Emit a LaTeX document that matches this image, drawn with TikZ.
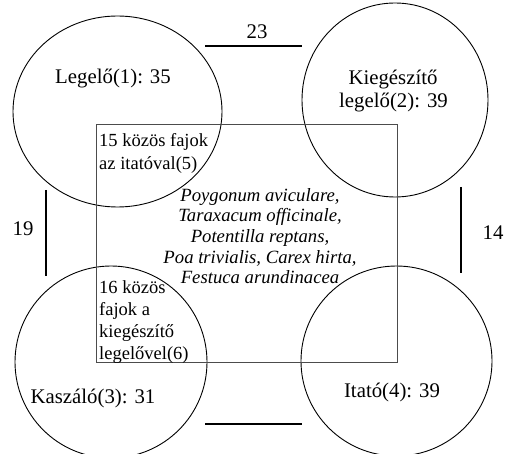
\documentclass[tikz,border=0pt]{standalone}
\usepackage{fontspec}
\setmainfont{Liberation Serif}
\usetikzlibrary{shapes.geometric}
\begin{document}
\begin{tikzpicture}[x=1pt,y=-1pt,
  area/.style={draw, ellipse, line width=0.9pt, inner sep=0pt},
  big/.style={font=\fontsize{20.8}{25}\selectfont, inner sep=0pt, anchor=base},
  small/.style={font=\fontsize{18.5}{22}\selectfont, inner sep=0pt, anchor=base west},
  spec/.style={font=\fontsize{18.7}{21}\selectfont\itshape, inner sep=0pt, anchor=base},
  link/.style={line width=1.6pt},
  common/.style={draw=black!70, line width=0.9pt, rectangle, inner sep=0pt}]
\useasboundingbox (0,0) rectangle (508,454);
% areas
\node[area, minimum width=209pt, minimum height=191pt] (c1) at (117.5,111.5) {};
\node[area, minimum width=186pt, minimum height=194pt] (c2) at (395,100) {};
\node[area, minimum width=192pt, minimum height=192pt] (c3) at (111,362) {};
\node[area, minimum width=191pt, minimum height=190pt] (c4) at (396.5,361) {};
% common species box
\node[common, minimum width=301pt, minimum height=238pt] (box) at (246.5,243) {};
% area labels
\node[big] (l1) at (113,84) {Legelő(1): 35};
\node[big] (l2a) at (393,84.5) {Kiegészítő};
\node[big] (l2b) at (393.5,108) {legelő(2): 39};
\node[big] (l3) at (93,403) {Kaszáló(3): 31};
\node[big] (l4) at (392,397) {Itató(4): 39};
% shared counts
\node[small] (s5a) at (99,147) {15 közös fajok};
\node[small] (s5b) at (99,170) {az itatóval(5)};
\node[small] (s6a) at (99,293.5) {16 közös};
\node[small] (s6b) at (99,315.5) {fajok a};
\node[small] (s6c) at (99,337.5) {kiegészítő};
\node[small] (s6d) at (99,359.5) {legelővel(6)};
% species list
\node[spec] (p1) at (260,201.5) {Poygonum aviculare,};
\node[spec] (p2) at (260,222) {Taraxacum officinale,};
\node[spec] (p3) at (260,242.5) {Potentilla reptans,};
\node[spec] (p4) at (260,263) {Poa trivialis, Carex hirta,};
\node[spec] (p5) at (260,283.5) {Festuca arundinacea};
% links between areas
\coordinate (t1) at (205,46);
\coordinate (t2) at (302,46);
\coordinate (v1) at (46,190);
\coordinate (v2) at (46,276);
\coordinate (r1) at (461,187);
\coordinate (r2) at (461,273);
\coordinate (b1) at (205,424);
\coordinate (b2) at (302,424);
\draw[link] (t1) -- (t2);
\draw[link] (v1) -- (v2);
\draw[link] (r1) -- (r2);
\draw[link] (b1) -- (b2);
\node[big] (n23) at (257,39) {23};
\node[big] (n19) at (23,236) {19};
\node[big] (n14) at (493,240) {14};
\end{tikzpicture}
\end{document}
